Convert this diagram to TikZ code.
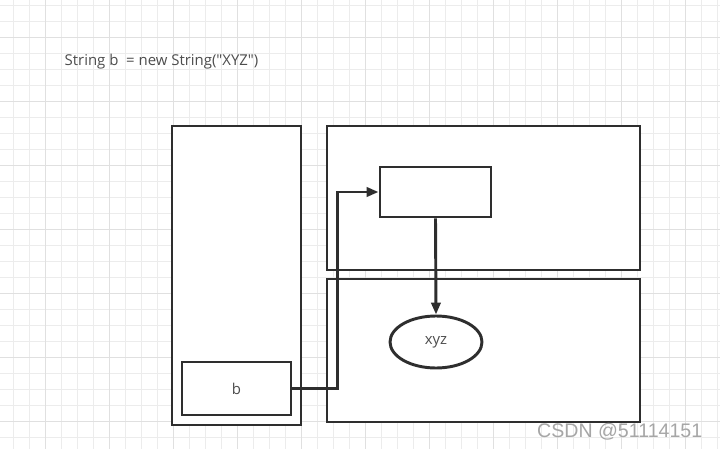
\documentclass[tikz,border=0pt]{standalone}
\usepackage{fontspec}
\setmainfont{Open Sans}
\newfontfamily\markfont{Liberation Sans}
\usetikzlibrary{arrows.meta,shapes.geometric}
\definecolor{ink}{HTML}{2E2E2E}
\definecolor{gridminor}{HTML}{ECECEC}
\definecolor{gridmajor}{HTML}{E0E0E0}
\tikzset{
  box/.style = {draw = ink, line width = 2.2pt, rectangle, inner sep = 0pt},
  oval/.style = {draw = ink, line width = 2.2pt, ellipse, inner sep = 0pt},
  ptr/.style = {draw = ink, line width = 2.2pt, -{Triangle[length = 9pt, width = 7pt]}},
  txt/.style = {text = ink!85, font = \fontsize{11.2}{13}\selectfont}
}
\begin{document}
\begin{tikzpicture}[x = 0.75pt, y = -0.75pt]
\useasboundingbox (0,0) rectangle (720,449);
\fill [white] (0,0) rectangle (720,449);
\foreach \gx in {13,29,...,720} \draw [gridminor, line width = 0.6pt] (\gx,0) -- (\gx,449);
\foreach \gy in {5,21,...,449} \draw [gridminor, line width = 0.6pt] (0,\gy) -- (720,\gy);
\foreach \gx in {45,109,...,720} \draw [gridmajor, line width = 0.6pt] (\gx,0) -- (\gx,449);
\foreach \gy in {37,101,...,449} \draw [gridmajor, line width = 0.6pt] (0,\gy) -- (720,\gy);
\node [txt, anchor = west] (code) at (60,62) {String b\ \ = new String(\textquotedbl XYZ\textquotedbl)};
\node [box, fill = white, minimum width = 129*0.75pt, minimum height = 299*0.75pt] (stack) at (236.5,275.5) {};
\node [box, fill = white, minimum width = 313*0.75pt, minimum height = 144*0.75pt] (heap) at (483.5,198) {};
\node [box, fill = white, minimum width = 313*0.75pt, minimum height = 143*0.75pt] (pool) at (483.5,350.5) {};
\node [box, minimum width = 111*0.75pt, minimum height = 50*0.75pt] (obj) at (435.5,192) {};
\node [oval, minimum width = 92*0.75pt, minimum height = 52*0.75pt, txt] (xyz) at (436,342) {xyz};
\node [box, minimum width = 109*0.75pt, minimum height = 53*0.75pt, txt] (b) at (236.5,388.5) {b};
\draw [ptr] (b.east) -- ++(45,0) |- (obj.west);
\draw [ptr] (obj.south) -- (xyz.north);
\node [anchor = east, text = black!35, font = \markfont\fontsize{14.7}{17}\selectfont] (mark) at (707,432) {CSDN @51114151};
\end{tikzpicture}
\end{document}
